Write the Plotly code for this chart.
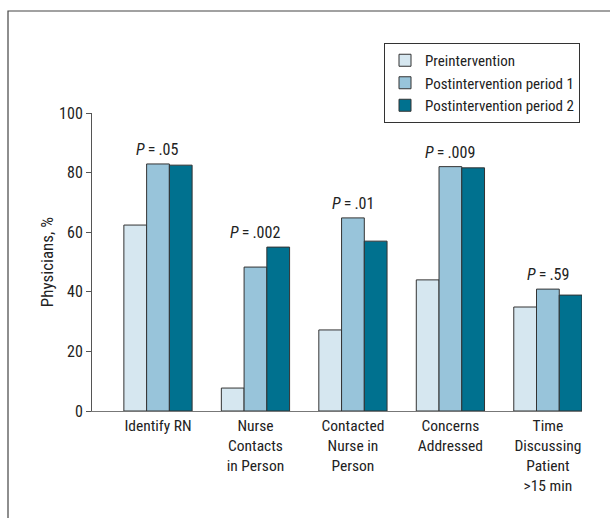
import plotly.graph_objects as go

categories = ["Identify RN", "Nurse<br>Contacts<br>in Person", "Contacted<br>Nurse in<br>Person",
              "Concerns<br>Addressed", "Time<br>Discussing<br>Patient<br>>15 min"]
cat_keys = ["Identify RN", "Nurse Contacts in Person", "Contacted Nurse in Person",
            "Concerns Addressed", "Time Discussing Patient >15 min"]
pre = [62.4, 7.7, 27.2, 44.0, 34.9]
post1 = [82.9, 48.3, 64.8, 82.0, 40.9]
post2 = [82.5, 55.0, 57.0, 81.6, 38.9]
p_values = [".05", ".002", ".01", ".009", ".59"]
series_names = ["Preintervention", "Postintervention period 1", "Postintervention period 2"]
colors = ["#d6e7f0", "#98c4da", "#00718f"]

FONT = "Liberation Sans Narrow, Arial Narrow, Roboto Condensed, Liberation Sans, sans-serif"

fig = go.Figure()
for name, vals, col in zip(series_names, [pre, post1, post2], colors):
    fig.add_trace(go.Bar(
        x=list(range(len(cat_keys))), y=vals, name=name,
        marker=dict(color=col, line=dict(color="#333333", width=1)),
    ))

for i, pv in enumerate(p_values):
    top = max(pre[i], post1[i], post2[i])
    fig.add_annotation(x=i, y=top, text="<i>P</i>\u2009=\u2009" + pv, showarrow=False,
                       yanchor="bottom", yshift=3, font=dict(size=16, color="#222", family=FONT))

# outer frame
fig.add_shape(type="rect", xref="paper", yref="paper",
              x0=(8 - 92) / 490, x1=(640 - 92) / 490,
              y0=(411 - 540) / 298, y1=(411 - 11) / 298,
              line=dict(color="#444", width=1.2), fillcolor="rgba(0,0,0,0)")

fig.update_layout(
    width=610, height=518,
    margin=dict(l=92, r=28, t=113, b=107),
    paper_bgcolor="white", plot_bgcolor="white",
    barmode="group", bargap=0.30, bargroupgap=0,
    font=dict(family=FONT, size=15.5, color="#222"),
    showlegend=True,
    legend=dict(x=(384 - 92) / 490, y=(411 - 43) / 298, xanchor="left", yanchor="top",
                bordercolor="#333", borderwidth=1, bgcolor="white",
                font=dict(size=15, family=FONT), tracegroupgap=0,
                itemwidth=30),
    xaxis=dict(range=[-0.677, 4.35], tickmode="array", tickvals=list(range(5)),
               ticktext=categories, showline=True, linecolor="#777", linewidth=1.2,
               ticks="", showgrid=False, zeroline=False, fixedrange=True),
    yaxis=dict(range=[0, 100], tickvals=[0, 20, 40, 60, 80, 100], showline=True,
               linecolor="#555", linewidth=1, ticks="outside", ticklen=5, tickcolor="#555",
               showgrid=False, zeroline=False, tickfont=dict(size=16),
               title=dict(text="Physicians, %", standoff=1, font=dict(size=17))),
)

fig.write_html("out.html", config={"displayModeBar": False},
               post_script="document.body.style.margin='0';")
